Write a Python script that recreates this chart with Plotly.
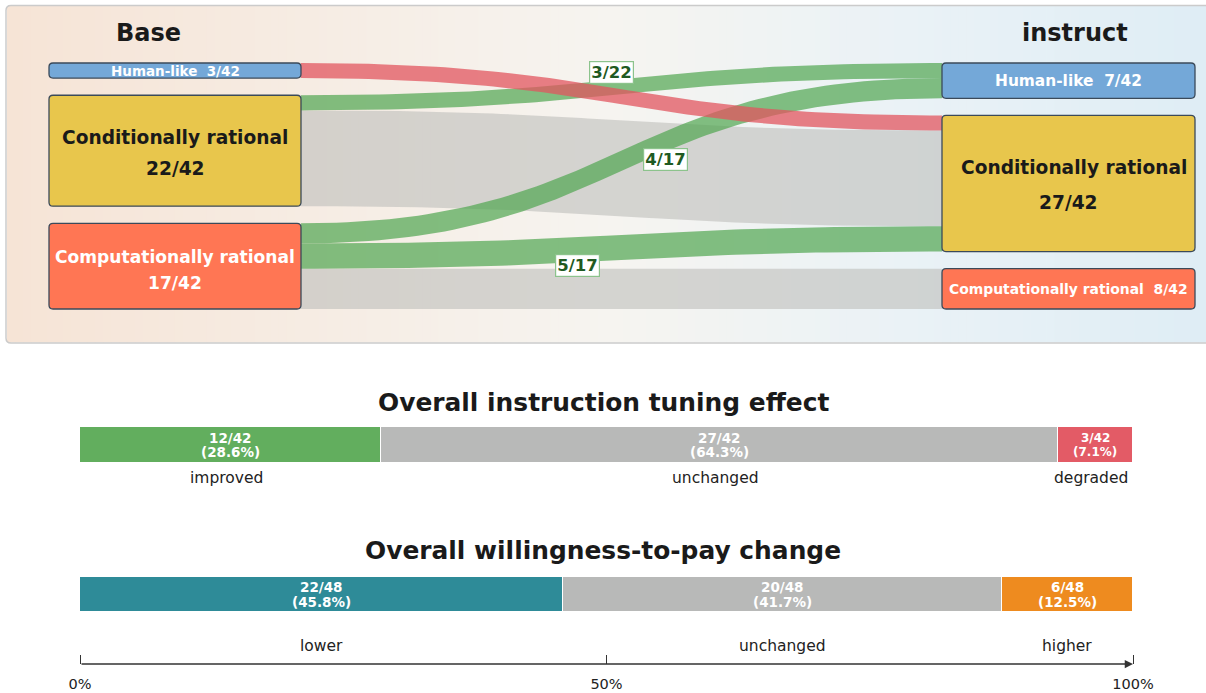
import numpy as np
import plotly.graph_objects as go

# ---------------- data ----------------
categories = ["Human-like", "Conditionally rational", "Computationally rational"]
base_counts = [3, 22, 17]
instruct_counts = [7, 27, 8]
n_total = 42
# transitions base -> instruct
flow_src = [0, 1, 1, 2, 2, 2]
flow_dst = [1, 0, 1, 0, 1, 2]
flow_vals = [3, 3, 19, 4, 5, 8]

effect_labels = ["improved", "unchanged", "degraded"]
effect_counts = [12, 27, 3]
effect_total = 42
wtp_labels = ["lower", "unchanged", "higher"]
wtp_counts = [22, 20, 6]
wtp_total = 48

# ---------------- style ----------------
FONT = "DejaVu Sans"
DARK = "#1a1a1a"
node_colors = ["#74a8d8", "#e8c64c", "#ff7654"]
node_text_colors = ["white", DARK, "white"]
flow_fill = {"improved": "rgba(80,165,80,0.70)", "degraded": "rgba(225,85,95,0.75)",
             "same": "rgba(190,190,186,0.60)"}
effect_colors = ["#62ae5e", "#b8b9b8", "#e35b66"]
wtp_colors = ["#2e8b98", "#b8b9b8", "#ee8b1f"]

W, H = 1206, 693
GAP = 3.4                    # gap between nodes, in count units
TOP_PX, BOT_PX = 63, 309     # vertical extent of node stacks (pixels)
SCALE = (BOT_PX - TOP_PX) / (n_total + 2 * GAP)   # px per count
XL0, XL1 = 49, 301           # left column (pixels)
XR0, XR1 = 942, 1195         # right column
BX0, BX1 = 80, 1133          # bar axis extent (pixels)
PAD = 0.3                    # axis padding in percent units

fig = go.Figure()
shapes = []

# ---- background gradient of the top panel (thin strips) ----
grad_stops = [(0.0, (246, 228, 214)), (0.25, (246, 236, 227)), (0.5, (246, 244, 240)),
              (0.75, (234, 242, 246)), (1.0, (223, 237, 245))]
def grad_color(f):
    for (f0, c0), (f1, c1) in zip(grad_stops[:-1], grad_stops[1:]):
        if f0 <= f <= f1:
            u = (f - f0) / (f1 - f0)
            return "rgb(%d,%d,%d)" % tuple(round(a + (b - a) * u) for a, b in zip(c0, c1))
    return "rgb(%d,%d,%d)" % grad_stops[-1][1]

n_strips = 150
edges = np.linspace(7, 1206, n_strips + 1)
for k in range(n_strips):
    shapes.append(dict(type="rect", xref="x", yref="y", x0=edges[k], x1=edges[k + 1] + 0.8,
                       y0=6, y1=342.5, fillcolor=grad_color(k / (n_strips - 1)),
                       line=dict(width=0), layer="below"))

# ---- node layout (count units) ----
def stack(counts):
    pos, y = [], 0.0
    for c in counts:
        pos.append((y, y + c))
        y += c + GAP
    return pos

left_pos = stack(base_counts)
right_pos = stack(instruct_counts)

out_off = [p[0] for p in left_pos]
in_off = [p[0] for p in right_pos]
order_out = sorted(range(len(flow_vals)), key=lambda i: (flow_src[i], flow_dst[i]))
seg_src = {}
for i in order_out:
    s = flow_src[i]
    seg_src[i] = (out_off[s], out_off[s] + flow_vals[i])
    out_off[s] += flow_vals[i]
order_in = sorted(range(len(flow_vals)), key=lambda i: (flow_dst[i], flow_src[i]))
seg_dst = {}
for i in order_in:
    d = flow_dst[i]
    seg_dst[i] = (in_off[d], in_off[d] + flow_vals[i])
    in_off[d] += flow_vals[i]

def bez(t, a, b, x0, x1):
    c = 0.5
    px = [x0, x0 + c * (x1 - x0), x1 - c * (x1 - x0), x1]
    py = [a, a, b, b]
    mt = 1 - t
    x = mt**3 * px[0] + 3 * mt**2 * t * px[1] + 3 * mt * t**2 * px[2] + t**3 * px[3]
    y = mt**3 * py[0] + 3 * mt**2 * t * py[1] + 3 * mt * t**2 * py[2] + t**3 * py[3]
    return x, y

def kind(i):
    if flow_dst[i] < flow_src[i]:
        return "improved"
    if flow_dst[i] > flow_src[i]:
        return "degraded"
    return "same"

t = np.linspace(0, 1, 80)
draw_order = [i for i in range(len(flow_vals)) if kind(i) == "same"] + \
             [i for i in range(len(flow_vals)) if kind(i) == "improved"] + \
             [i for i in range(len(flow_vals)) if kind(i) == "degraded"]
for i in draw_order:
    (s0, s1), (d0, d1) = seg_src[i], seg_dst[i]
    xt, yt = bez(t, s0, d0, XL1, XR0)
    xb, yb = bez(t, s1, d1, XL1, XR0)
    fig.add_trace(go.Scatter(
        x=np.concatenate([xt, xb[::-1]]), y=np.concatenate([yt, yb[::-1]]),
        xaxis="x", yaxis="y3", mode="lines", line=dict(width=0),
        fill="toself", fillcolor=flow_fill[kind(i)], hoverinfo="skip", showlegend=False))

def rrect_path(x0, x1, y0, y1, rx, ry):
    return (f"M{x0+rx},{y0} L{x1-rx},{y0} Q{x1},{y0} {x1},{y0+ry} L{x1},{y1-ry} "
            f"Q{x1},{y1} {x1-rx},{y1} L{x0+rx},{y1} Q{x0},{y1} {x0},{y1-ry} "
            f"L{x0},{y0+ry} Q{x0},{y0} {x0+rx},{y0} Z")

shapes.append(dict(type="path", xref="x", yref="y", path=rrect_path(6, 1214, 5.5, 343, 5, 5),
                   line=dict(color="#cbcbcb", width=1.5), fillcolor="rgba(0,0,0,0)", layer="above"))

ry = 4 / SCALE
for j, (y0, y1) in enumerate(left_pos):
    shapes.append(dict(type="path", xref="x", yref="y3", path=rrect_path(XL0, XL1, y0, y1, 4, ry),
                       fillcolor=node_colors[j], line=dict(color="#3b4a5a", width=1.3), layer="above"))
for j, (y0, y1) in enumerate(right_pos):
    shapes.append(dict(type="path", xref="x", yref="y3", path=rrect_path(XR0, XR1, y0, y1, 4, ry),
                       fillcolor=node_colors[j], line=dict(color="#3b4a5a", width=1.3), layer="above"))

ann = []
def txt(x, y, s, size, color=DARK, bold=True, xref="x", yref="y3", yshift=0, xshift=0, **kw):
    d = dict(x=x, y=y, xref=xref, yref=yref, text=s, showarrow=False, yshift=yshift, xshift=xshift,
             xanchor="center", yanchor="middle",
             font=dict(family=FONT, size=size, color=color, weight="bold" if bold else "normal"))
    d.update(kw)
    ann.append(d)

# column titles
txt(148, 33, "Base", 24, yref="y")
txt(1075, 33, "instruct", 24, yref="y")

# node labels
xc_l = (XL0 + XL1) / 2
xc_r = (XR0 + XR1) / 2
def node_label(xc, pos, count, j, single_size, two_size, two_gap, name_dx=0):
    yc = (pos[0] + pos[1]) / 2
    col = node_text_colors[j]
    if two_size is None:
        txt(xc, yc, f"{categories[j]}&nbsp;&nbsp;{count}/{n_total}", single_size, col)
    else:
        txt(xc, yc, categories[j], two_size, col, yshift=two_gap[0], xshift=name_dx)
        txt(xc, yc, f"{count}/{n_total}", two_size, col, yshift=two_gap[1])

node_label(xc_l, left_pos[0], base_counts[0], 0, 13.5, None, None)
node_label(xc_l, left_pos[1], base_counts[1], 1, None, 18.6, (13, -18))
node_label(xc_l, left_pos[2], base_counts[2], 2, None, 17.1, (9, -17))
node_label(xc_r, right_pos[0], instruct_counts[0], 0, 15.4, None, None)
node_label(xc_r, right_pos[1], instruct_counts[1], 1, None, 18.6, (16, -19), name_dx=5)
node_label(xc_r, right_pos[2], instruct_counts[2], 2, 13.9, None, None)

# flow labels on improved flows
label_t = {1: (0.48, 15), 3: (0.59, -18), 4: (0.41, -16)}
for i, (tt, ysh) in label_t.items():
    (s0, s1), (d0, d1) = seg_src[i], seg_dst[i]
    lx, ly = bez(tt, (s0 + s1) / 2, (d0 + d1) / 2, XL1, XR0)
    txt(lx, ly, f"{flow_vals[i]}/{base_counts[flow_src[i]]}", 16.5, "#1f5a22", yshift=ysh,
        bgcolor="white", bordercolor="#8cc38c", borderwidth=1.2, borderpad=1)

# ---------------- bars ----------------
def add_bar(counts, total, colors, labels, row, label_y, label_dx):
    cum = 0
    for c, col, lab in zip(counts, colors, labels):
        pct = 100 * c / total
        fig.add_trace(go.Bar(x=[pct], y=[row], orientation="h", width=0.24,
                             marker=dict(color=col, line=dict(color="white", width=1)),
                             xaxis="x2", yaxis="y2", hoverinfo="skip", showlegend=False))
        xc = cum + pct / 2
        fs = 13.5 if pct > 10 else 12
        txt(xc, row, f"{c}/{total}", fs, "white", xref="x2", yref="y2", yshift=7.5)
        txt(xc, row, f"({pct:.1f}%)", fs, "white", xref="x2", yref="y2", yshift=-7)
        txt(xc, label_y, lab, 15.5, "#222222", bold=False, xref="x2", yref="y2", xshift=label_dx)
        cum += pct

add_bar(effect_counts, effect_total, effect_colors, effect_labels, 1, 0.779, -4)
add_bar(wtp_counts, wtp_total, wtp_colors, wtp_labels, 0, -0.3445, 0)

txt(0.5, 1 - 402 / H, "Overall instruction tuning effect", 24.9, xref="paper", yref="paper")
txt(0.5, 1 - 550 / H, "Overall willingness-to-pay change", 24.9, xref="paper", yref="paper")

# axis arrow
Y2_MIN, Y2_MAX = -0.4649, 1.4348
ann.append(dict(x=100, y=Y2_MIN, xref="x2", yref="y2", ax=0, ay=Y2_MIN, axref="x2", ayref="y2",
                text="", showarrow=True, arrowhead=2, arrowsize=1.1, arrowwidth=1.5,
                arrowcolor="#333333", standoff=0))

kpx = (BX1 - BX0) / 100.0
fig.update_layout(
    width=W, height=H, autosize=False,
    margin=dict(l=0, r=0, t=0, b=0, pad=0, autoexpand=False),
    paper_bgcolor="white", plot_bgcolor="rgba(0,0,0,0)",
    barmode="stack", showlegend=False, bargap=0,
    shapes=shapes, annotations=ann,
    font=dict(family=FONT, color=DARK),
    xaxis=dict(domain=[0, 1], range=[0, W], visible=False, fixedrange=True, automargin=False),
    yaxis=dict(domain=[0, 1], range=[H, 0], visible=False, fixedrange=True, automargin=False),
    yaxis3=dict(domain=[0, 1], overlaying="y", visible=False, automargin=False,
                range=[(H - TOP_PX) / SCALE, -TOP_PX / SCALE], fixedrange=True),
    xaxis2=dict(domain=[(BX0 - PAD * kpx) / W, (BX1 + PAD * kpx) / W], range=[-PAD, 100 + PAD],
                anchor="y2",
                tickvals=[0, 50, 100], ticktext=["0%", "50%", "100%"],
                ticks="inside", ticklen=9, tickwidth=1.3, tickcolor="#333333",
                showgrid=False, zeroline=False, showline=False, ticklabelstandoff=9,
                automargin=False,
                tickfont=dict(family=FONT, size=14.5, color="#222222"), fixedrange=True),
    yaxis2=dict(domain=[1 - 664 / H, 1 - 380 / H], range=[Y2_MIN, Y2_MAX], anchor="x2",
                visible=False, fixedrange=True, automargin=False),
)

post = ("document.body.style.margin='0px';document.body.style.padding='0px';"
        "document.body.style.overflow='hidden';"
        "var gd=document.getElementById('{plot_id}');gd.style.width='1206px';gd.style.height='693px';"
        "Plotly.relayout(gd,{width:1206,height:693});")
fig.write_html("out.html", config={"displayModeBar": False, "responsive": False}, post_script=post)
